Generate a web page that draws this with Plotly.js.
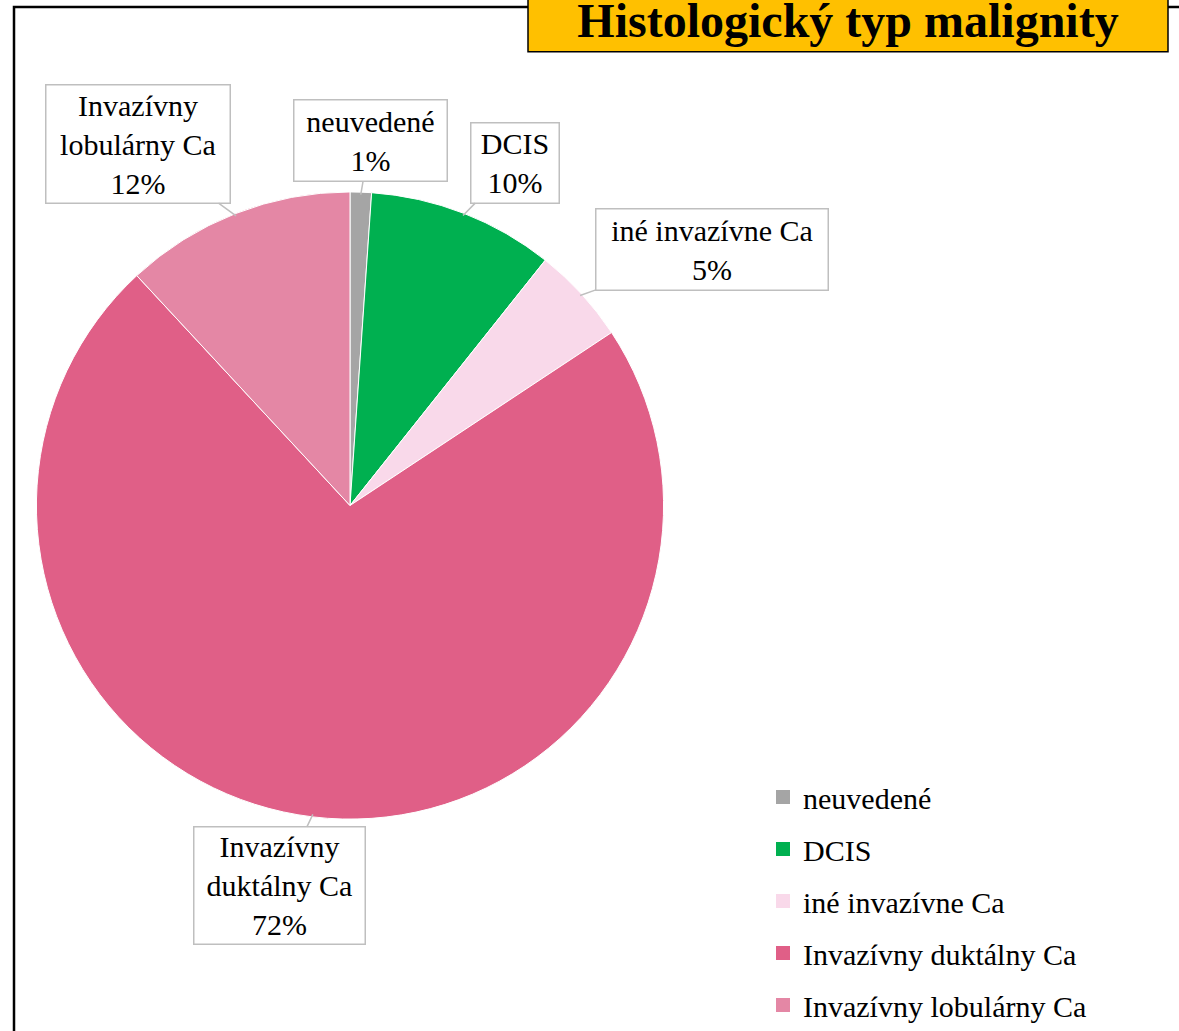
<!DOCTYPE html>
<html>
<head>
<meta charset="utf-8">
<script src="https://cdn.plot.ly/plotly-3.0.1.min.js"></script>
<style>html,body{margin:0;padding:0;background:#fff;}#chart{width:1179px;height:1031px;}</style>
</head>
<body>
<div id="chart"></div>
<script>
// ---- data ----
const labels = ['neuvedené', 'DCIS', 'iné invazívne Ca', 'Invazívny duktálny Ca', 'Invazívny lobulárny Ca'];
const calloutLabels = ['neuvedené', 'DCIS', 'iné invazívne Ca', 'Invazívny<br>duktálny Ca', 'Invazívny<br>lobulárny Ca'];
const values = [1.1, 9.6, 5.0, 72.4, 11.9];
const colors = ['#A5A5A5', '#00B050', '#F9D9EA', '#E05F87', '#E487A5'];
const titleText = 'Histologický typ malignity';

// ---- layout helpers (pixel -> paper) ----
const W = 1179, H = 1031;
const px = x => x / W;
const py = y => 1 - y / H;
const FONT = '"Liberation Serif", "Times New Roman", serif';

// pie circle in pixels
const pieBox = {x0: 38, x1: 662, y0: 195, y1: 819};
const cx = (pieBox.x0 + pieBox.x1) / 2, cy = (pieBox.y0 + pieBox.y1) / 2;
const R = Math.min(pieBox.x1 - pieBox.x0, pieBox.y1 - pieBox.y0) / 2;
const dPad = 2.5;

// callout box centers and sizes (pixels)
const boxes = [
  {cx: 370, cy: 141, w: 154, h: 82},
  {cx: 514.5, cy: 163.5, w: 89, h: 81},
  {cx: 711.5, cy: 250, w: 233, h: 82},
  {cx: 279, cy: 888, w: 172, h: 118},
  {cx: 137.5, cy: 144.5, w: 185, h: 119}
];

const total = values.reduce((a, b) => a + b, 0);
let cum = 0;
const annotations = values.map((v, i) => {
  const mid = (cum + v / 2) / total;
  cum += v;
  const th = 2 * Math.PI * mid;
  const ex = cx + R * Math.sin(th);
  const ey = cy - R * Math.cos(th);
  const b = boxes[i];
  return {
    x: px(ex), y: py(ey), xref: 'paper', yref: 'paper',
    ax: b.cx - ex, ay: b.cy - ey,
    text: calloutLabels[i] + '<br>' + Math.round(v / total * 100) + '%',
    showarrow: true, arrowhead: 0, arrowwidth: 1.5, arrowcolor: '#BFBFBF', standoff: 0,
    bordercolor: '#BFBFBF', borderwidth: 1.5, borderpad: 2, bgcolor: '#FFFFFF',
    width: b.w - 6, height: b.h - 6, align: 'center', valign: 'middle',
    font: {family: FONT, size: 30, color: '#000000'}
  };
});

const pieTrace = {
  type: 'pie',
  labels: labels,
  values: values,
  sort: false,
  direction: 'clockwise',
  rotation: 0,
  marker: {colors: colors, line: {color: '#FFFFFF', width: 1}},
  textinfo: 'none',
  hoverinfo: 'label+percent',
  domain: {x: [px(pieBox.x0 - dPad), px(pieBox.x1 + dPad)], y: [py(pieBox.y1 + dPad), py(pieBox.y0 - dPad)]},
  showlegend: false
};

// legend entries (one per category, same colours as the slices)
const legendTraces = labels.map((lab, i) => ({
  type: 'scatter', mode: 'markers',
  x: [null], y: [null],
  name: lab, legendgroup: 'g' + i,
  marker: {symbol: 'square', size: 14, color: colors[i]},
  hoverinfo: 'skip', showlegend: true
}));

const layout = {
  width: W, height: H, autosize: false,
  margin: {l: 0, r: 0, t: 0, b: 0},
  paper_bgcolor: '#FFFFFF',
  plot_bgcolor: 'rgba(0,0,0,0)',
  font: {family: FONT, color: '#000000'},
  xaxis: {visible: false, showgrid: false, zeroline: false},
  yaxis: {visible: false, showgrid: false, zeroline: false},
  title: {
    text: '<b>' + titleText + '</b>',
    font: {family: FONT, size: 48, color: '#000000'},
    x: px(848), xanchor: 'center', xref: 'paper',
    y: 1 - 20 / H, yanchor: 'middle', yref: 'container'
  },
  legend: {
    x: px(763), xanchor: 'left',
    y: py(904), yanchor: 'middle',
    bgcolor: 'rgba(0,0,0,0)',
    font: {family: FONT, size: 30, color: '#000000'},
    traceorder: 'grouped',
    tracegroupgap: 10
  },
  shapes: [
    {type: 'rect', xref: 'paper', yref: 'paper', x0: px(14), x1: px(1200), y0: py(1060), y1: py(7),
     line: {color: '#000000', width: 2.5}, fillcolor: 'rgba(0,0,0,0)', layer: 'below'},
    {type: 'rect', xref: 'paper', yref: 'paper', x0: px(528), x1: px(1168), y0: py(52), y1: py(-10),
     line: {color: '#000000', width: 1.5}, fillcolor: '#FFC000', layer: 'below'}
  ],
  annotations: annotations
};

Plotly.newPlot('chart', [pieTrace].concat(legendTraces), layout, {displayModeBar: false, staticPlot: true});
</script>
</body>
</html>
